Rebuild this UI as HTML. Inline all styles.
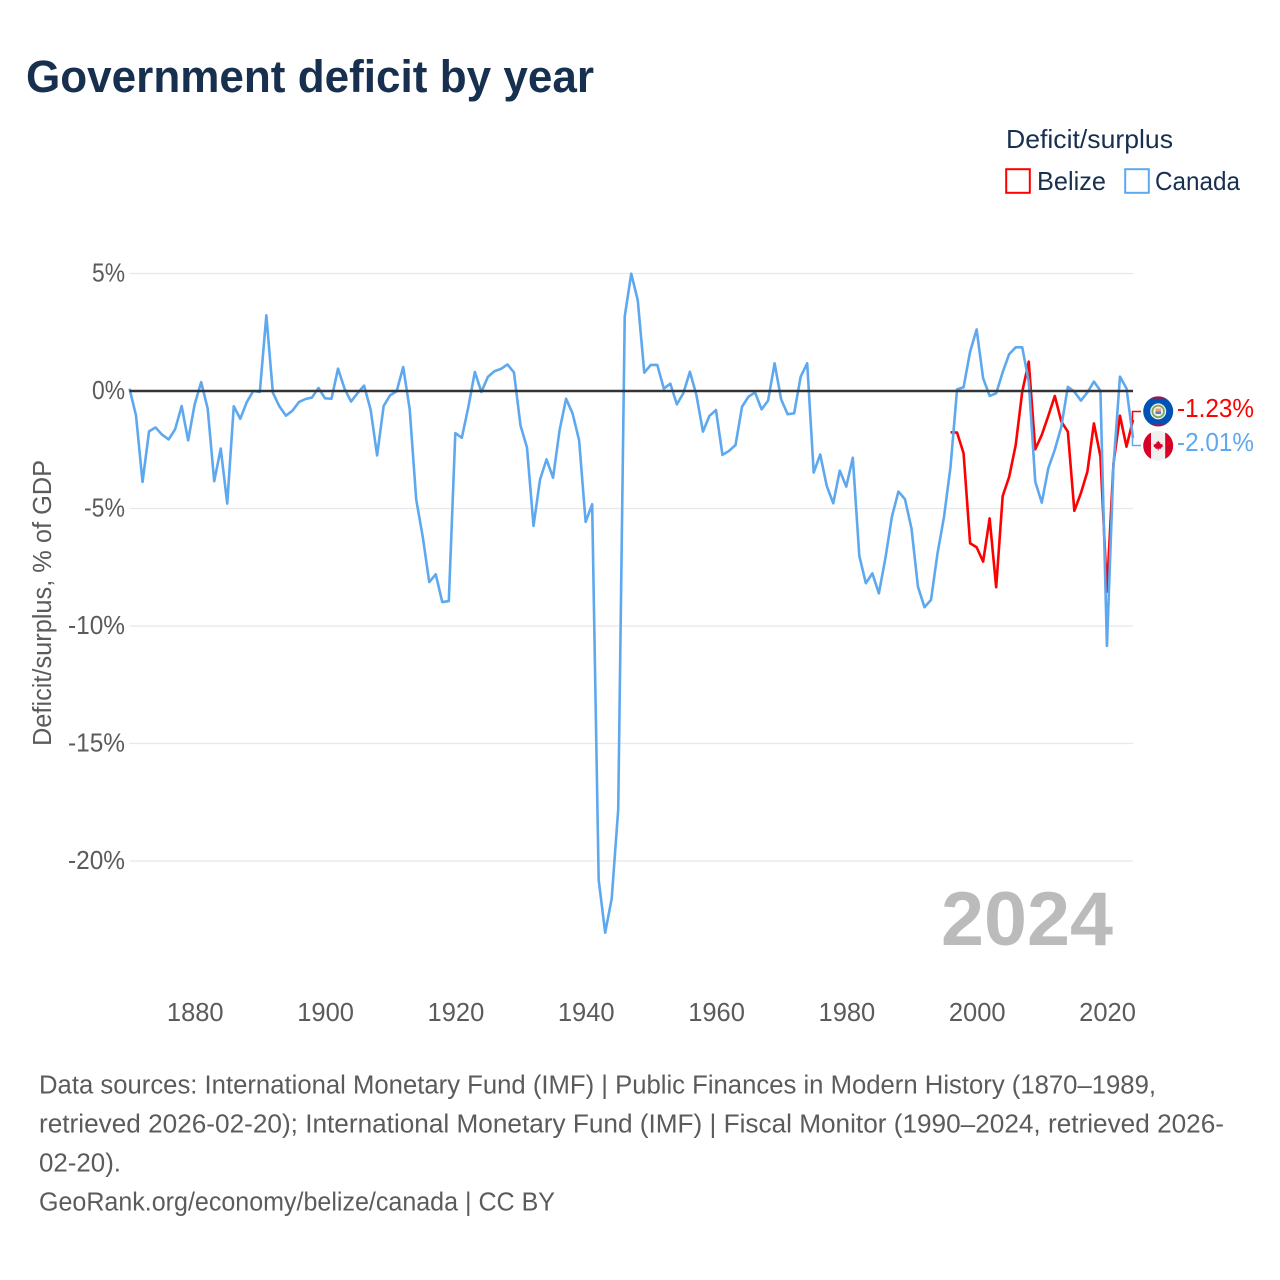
<!DOCTYPE html>
<html lang="en">
<head>
<meta charset="utf-8">
<title>Government deficit by year</title>
<style>
html,body{margin:0;padding:0;background:#fff;width:1280px;height:1280px;overflow:hidden}
svg{display:block}
text{font-family:"Liberation Sans",sans-serif}
.tick{font-size:25.5px;fill:#5b5b5b}
.foot{font-size:25.5px;fill:#5b5b5b}
.leg{font-size:26px;fill:#18304f}
</style>
</head>
<body>
<svg id="chart" width="1280" height="1280" viewBox="0 0 1280 1280" xmlns="http://www.w3.org/2000/svg">
  <rect x="0" y="0" width="1280" height="1280" fill="#fff"/>
  <text x="26" y="92" font-size="45" font-weight="700" fill="#18304f" textLength="568" lengthAdjust="spacingAndGlyphs">Government deficit by year</text>

  <g>
    <text class="leg" x="1006" y="148" textLength="167" lengthAdjust="spacingAndGlyphs">Deficit/surplus</text>
    <rect x="1006.2" y="169.2" width="23.6" height="23.6" fill="none" stroke="#ff0000" stroke-width="2"/>
    <text class="leg" x="1037" y="190" textLength="69" lengthAdjust="spacingAndGlyphs">Belize</text>
    <rect x="1125.2" y="169.2" width="23.6" height="23.6" fill="none" stroke="#5ea8ef" stroke-width="2"/>
    <text class="leg" x="1155" y="190" textLength="85" lengthAdjust="spacingAndGlyphs">Canada</text>
  </g>

  <g id="grid"></g>
  <g id="yticks"></g>
  <g id="xticks"></g>
  <text x="0" y="0" transform="translate(51,603) rotate(-90)" text-anchor="middle" font-size="25.5" fill="#5b5b5b" textLength="286" lengthAdjust="spacingAndGlyphs">Deficit/surplus, % of GDP</text>
  <text x="941" y="945" font-size="76" font-weight="700" fill="#bbbbbb" textLength="172" lengthAdjust="spacingAndGlyphs">2024</text>
  <g id="series"></g>
  <line id="zero" stroke="#333" stroke-width="2.4"/>

  <g>
    <path id="conn-belize" fill="none" stroke="#ff0000" stroke-width="1.5"/>
    <path id="conn-canada" fill="none" stroke="#5ea8ef" stroke-width="1.5"/>
    <g>
      <clipPath id="clip-bz"><circle cx="1158.2" cy="411.4" r="15"/></clipPath>
      <g clip-path="url(#clip-bz)">
        <rect x="1143" y="396" width="31" height="31" fill="#0052b4"/>
        <rect x="1143" y="396" width="31" height="2.5" fill="#d80027"/>
        <rect x="1143" y="424.5" width="31" height="2.5" fill="#d80027"/>
        <circle cx="1158.2" cy="411.4" r="8" fill="#f0f0f0"/>
        <circle cx="1158.2" cy="411.4" r="5.8" fill="none" stroke="#7da65a" stroke-width="1.8"/>
        <rect x="1155.5" y="408.5" width="5.5" height="3" fill="#f0a070"/>
        <rect x="1155.5" y="411.5" width="5.5" height="2.5" fill="#5a80c0"/>
      </g>
    </g>
    <g>
      <clipPath id="clip-ca"><circle cx="1158.2" cy="445.7" r="15"/></clipPath>
      <g clip-path="url(#clip-ca)">
        <rect x="1143" y="430" width="31" height="31" fill="#efefef"/>
        <rect x="1143" y="430" width="8" height="31" fill="#d80027"/>
        <rect x="1165.2" y="430" width="8" height="31" fill="#d80027"/>
        <path transform="translate(1158.2 445.7) scale(.72) translate(-1158 -445)" d="M1158 438l1.6 2.6 1.4-.6-.5 3 1.6-1 .5 1.3 2-.3-.7 2.1.9.6-3.4 2.6.4 1.2-3.2-.4v2.4h-1.2v-2.4l-3.2.4.4-1.2-3.4-2.6.9-.6-.7-2.1 2 .3.5-1.3 1.6 1-.5-3 1.4.6z" fill="#d80027"/>
      </g>
    </g>
    <text x="1177" y="417" font-size="25.5" fill="#ff0000" textLength="77" lengthAdjust="spacingAndGlyphs">-1.23%</text>
    <text x="1177" y="451" font-size="25.5" fill="#5ea8ef" textLength="77" lengthAdjust="spacingAndGlyphs">-2.01%</text>
  </g>

  <g>
    <text class="foot" x="39" y="1093.5" textLength="1117" lengthAdjust="spacingAndGlyphs">Data sources: International Monetary Fund (IMF) | Public Finances in Modern History (1870–1989,</text>
    <text class="foot" x="39" y="1132.5" textLength="1185" lengthAdjust="spacingAndGlyphs">retrieved 2026-02-20); International Monetary Fund (IMF) | Fiscal Monitor (1990–2024, retrieved 2026-</text>
    <text class="foot" x="39" y="1171.5" textLength="82" lengthAdjust="spacingAndGlyphs">02-20).</text>
    <text class="foot" x="39" y="1210.5" textLength="516" lengthAdjust="spacingAndGlyphs">GeoRank.org/economy/belize/canada | CC BY</text>
  </g>
</svg>
<script>
const canadaYears = [1870,1871,1872,1873,1874,1875,1876,1877,1878,1879,1880,1881,1882,1883,1884,1885,1886,1887,1888,1889,1890,1891,1892,1893,1894,1895,1896,1897,1898,1899,1900,1901,1902,1903,1904,1905,1906,1907,1908,1909,1910,1911,1912,1913,1914,1915,1916,1917,1918,1919,1920,1921,1922,1923,1924,1925,1926,1927,1928,1929,1930,1931,1932,1933,1934,1935,1936,1937,1938,1939,1940,1941,1942,1943,1944,1945,1946,1947,1948,1949,1950,1951,1952,1953,1954,1955,1956,1957,1958,1959,1960,1961,1962,1963,1964,1965,1966,1967,1968,1969,1970,1971,1972,1973,1974,1975,1976,1977,1978,1979,1980,1981,1982,1983,1984,1985,1986,1987,1988,1989,1990,1991,1992,1993,1994,1995,1996,1997,1998,1999,2000,2001,2002,2003,2004,2005,2006,2007,2008,2009,2010,2011,2012,2013,2014,2015,2016,2017,2018,2019,2020,2021,2022,2023,2024];
const canadaValues = [0.1,-1.04,-3.87,-1.72,-1.55,-1.86,-2.06,-1.63,-0.64,-2.1,-0.57,0.38,-0.75,-3.84,-2.45,-4.79,-0.65,-1.18,-0.47,0,-0.04,3.22,-0.07,-0.65,-1.05,-0.84,-0.47,-0.34,-0.28,0.13,-0.31,-0.33,0.95,0.1,-0.45,-0.09,0.23,-0.79,-2.74,-0.64,-0.18,-0.01,1.02,-0.78,-4.62,-6.2,-8.13,-7.8,-8.98,-8.94,-1.79,-1.99,-0.68,0.81,-0.04,0.6,0.84,0.94,1.13,0.79,-1.46,-2.41,-5.74,-3.77,-2.91,-3.69,-1.67,-0.33,-0.96,-2.1,-5.57,-4.82,-20.8,-23.05,-21.6,-17.8,3.18,4.99,3.86,0.78,1.11,1.11,0.1,0.31,-0.57,-0.09,0.82,-0.17,-1.73,-1.06,-0.81,-2.72,-2.55,-2.3,-0.67,-0.24,-0.06,-0.78,-0.41,1.18,-0.35,-0.99,-0.95,0.61,1.18,-3.47,-2.7,-4.04,-4.78,-3.39,-4.07,-2.84,-7.02,-8.18,-7.76,-8.61,-7.12,-5.35,-4.28,-4.6,-5.84,-8.33,-9.2,-8.89,-6.91,-5.35,-3.22,0.07,0.16,1.67,2.62,0.54,-0.21,-0.1,0.8,1.57,1.86,1.86,0.4,-3.86,-4.75,-3.29,-2.5,-1.52,0.18,-0.03,-0.41,-0.06,0.4,0.01,-10.85,-3.2,0.61,0.11,-2.01];
const belizeYears = [1996,1997,1998,1999,2000,2001,2002,2003,2004,2005,2006,2007,2008,2009,2010,2011,2012,2013,2014,2015,2016,2017,2018,2019,2020,2021,2022,2023,2024];
const belizeValues = [-1.76,-1.77,-2.65,-6.48,-6.65,-7.26,-5.42,-8.35,-4.47,-3.65,-2.3,-0.03,1.25,-2.48,-1.87,-1.06,-0.21,-1.3,-1.73,-5.1,-4.35,-3.43,-1.38,-2.79,-8.54,-3.1,-1.05,-2.37,-1.23];
const xTickYears = [1880,1900,1920,1940,1960,1980,2000,2020];
const yTickValues = [5,0,-5,-10,-15,-20];
const yTickLabels = ["5%","0%","-5%","-10%","-15%","-20%"];

const NS = "http://www.w3.org/2000/svg";
const X_MIN = 1870, X_MAX = 2024;
function xScale(year) { return 129.5 + (year - X_MIN) * (1133 - 129.5) / (X_MAX - X_MIN); }
function yScale(value) { return 391 - value * 23.5; }
function linePath(years, values) {
  return years.map(function (y, i) {
    return (i ? "L" : "M") + xScale(y).toFixed(2) + " " + yScale(values[i]).toFixed(2);
  }).join("");
}
const grid = document.getElementById("grid");
const yt = document.getElementById("yticks");
const xt = document.getElementById("xticks");
const series = document.getElementById("series");
const labelWidths = {2: 33, 3: 41, 4: 57};

yTickValues.forEach(function (v, i) {
  const l = document.createElementNS(NS, "line");
  
  
  l.setAttribute("x1", xScale(X_MIN));
  l.setAttribute("x2", xScale(X_MAX));
  l.setAttribute("y1", yScale(v));
  l.setAttribute("y2", yScale(v));
  l.setAttribute("stroke", "#e8e8e8");
  l.setAttribute("stroke-width", "1.3");
  grid.appendChild(l);
  const t = document.createElementNS(NS, "text");
  
  
  t.setAttribute("class", "tick");
  t.setAttribute("x", 125);
  t.setAttribute("y", yScale(v) + 8);
  t.setAttribute("text-anchor", "end");
  t.setAttribute("textLength", labelWidths[yTickLabels[i].length]);
  t.setAttribute("lengthAdjust", "spacingAndGlyphs");
  t.textContent = yTickLabels[i];
  yt.appendChild(t);
});
xTickYears.forEach(function (year) {
  const t = document.createElementNS(NS, "text");
  
  
  t.setAttribute("class", "tick");
  t.setAttribute("x", xScale(year) + 0.6);
  t.setAttribute("y", 1021);
  t.setAttribute("text-anchor", "middle");
  t.textContent = year;
  xt.appendChild(t);
});

const canadaLine = document.createElementNS(NS, "path");


canadaLine.setAttribute("d", linePath(canadaYears, canadaValues));
canadaLine.setAttribute("fill", "none");
canadaLine.setAttribute("stroke", "#5ea8ef");
canadaLine.setAttribute("stroke-width", "2.6");
canadaLine.setAttribute("stroke-linejoin", "round");

const belizeLine = document.createElementNS(NS, "path");


belizeLine.setAttribute("d", linePath(belizeYears, belizeValues));
belizeLine.setAttribute("fill", "none");
belizeLine.setAttribute("stroke", "#ff0000");
belizeLine.setAttribute("stroke-width", "2.6");
belizeLine.setAttribute("stroke-linejoin", "round");

series.appendChild(belizeLine);
series.appendChild(canadaLine);

const zero = document.getElementById("zero");
zero.setAttribute("x1", xScale(X_MIN));
zero.setAttribute("x2", xScale(X_MAX));
zero.setAttribute("y1", yScale(0));
zero.setAttribute("y2", yScale(0));

const ex = xScale(X_MAX) - 0.5;
const by = yScale(belizeValues[belizeValues.length - 1]);
const cy = yScale(canadaValues[canadaValues.length - 1]);
document.getElementById("conn-belize").setAttribute("d", "M" + ex + " " + by + "V411.5H1141");
document.getElementById("conn-canada").setAttribute("d", "M" + ex + " " + cy + "V445.5H1141");
</script>
</body>
</html>
